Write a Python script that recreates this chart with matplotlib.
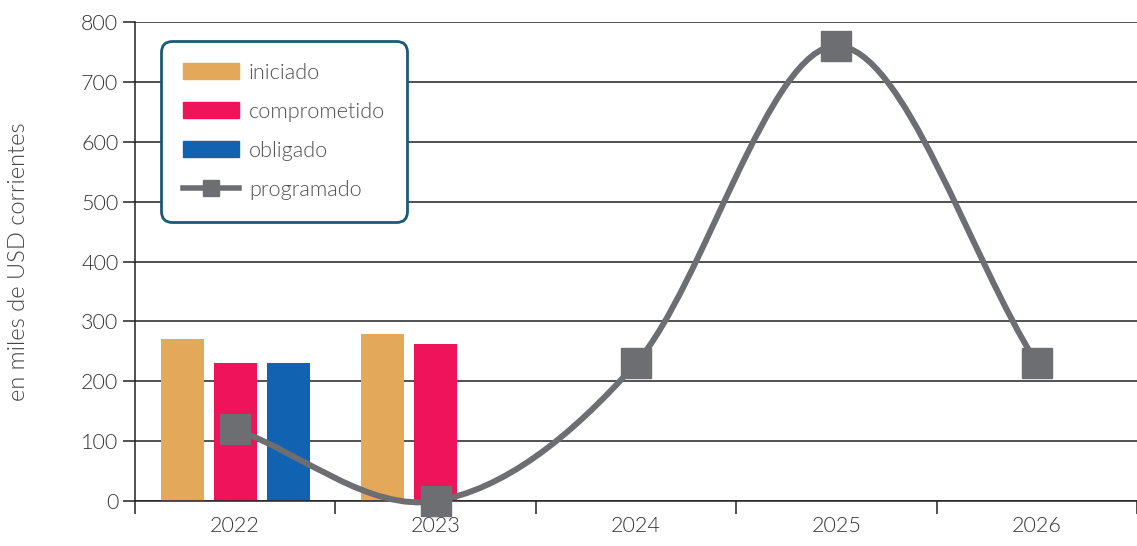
import matplotlib.pyplot as plt
import numpy as np
from matplotlib.path import Path
from matplotlib.patches import PathPatch, Patch
from matplotlib.lines import Line2D

plt.rcParams['font.family'] = ['Lato', 'DejaVu Sans']

years = ['2022', '2023', '2024', '2025', '2026']
iniciado = [270, 279]
comprometido = [230, 262]
obligado = [230]
programado = [120, 0, 230, 760, 230]

c_ini = '#e3a85a'
c_com = '#ee135a'
c_obl = '#1163b1'
c_prog = '#6d6e71'
txt = '#333333'
FW = 300

fig = plt.figure(figsize=(11.37, 5.46), dpi=100)
ax = fig.add_axes([135 / 1137, 45 / 546, 1 - 135 / 1137, 479 / 546])

x = np.arange(len(years))
w = 0.215
off = 0.264
ax.bar(x[:len(iniciado)] - off, iniciado, w, color=c_ini, zorder=2)
ax.bar(x[:len(comprometido)], comprometido, w, color=c_com, zorder=2)
ax.bar(x[:len(obligado)] + off, obligado, w, color=c_obl, zorder=2)

# smooth curve (cardinal spline) through the programado points
y = np.array(programado, dtype=float)
m = np.zeros_like(y)
m[1:-1] = (y[2:] - y[:-2]) / 2
m[0] = y[1] - y[0]
m[-1] = y[-1] - y[-2]
verts = [(x[0], y[0])]
codes = [Path.MOVETO]
for i in range(len(y) - 1):
    verts += [(x[i] + 1 / 3, y[i] + m[i] / 3),
              (x[i + 1] - 1 / 3, y[i + 1] - m[i + 1] / 3),
              (x[i + 1], y[i + 1])]
    codes += [Path.CURVE4] * 3
ax.add_patch(PathPatch(Path(verts, codes), fill=False, edgecolor=c_prog,
                       lw=4.3, zorder=3, capstyle='butt', clip_on=False))
ax.plot(x, programado, ls='none', marker='s', ms=21, color=c_prog, zorder=4,
        clip_on=False)

ax.set_xlim(-0.5, 4.5)
ax.set_ylim(0, 800)
ax.set_yticks(np.arange(0, 801, 100))
ax.set_xticks(x)
ax.set_xticklabels(years)
ax.set_xticks(np.arange(-0.5, 4.6, 1), minor=True)
ax.grid(axis='y', color='#222222', lw=1.1, zorder=0)
ax.tick_params(axis='y', length=9, width=1.1, color='#222222', labelsize=15.5,
               labelcolor=txt, pad=3)
ax.tick_params(axis='x', which='major', length=0, labelsize=15.5, labelcolor=txt, pad=11)
ax.tick_params(axis='x', which='minor', length=9, width=1.1, color='#222222')
for lab in ax.get_xticklabels() + ax.get_yticklabels():
    lab.set_fontweight(FW)
for s in ['top', 'right']:
    ax.spines[s].set_visible(False)
ax.spines['left'].set_color('#222222')
ax.spines['left'].set_linewidth(1.1)
ax.spines['bottom'].set_color('#222222')
ax.spines['bottom'].set_linewidth(1.1)

ax.set_ylabel('en miles de USD corrientes', fontsize=17, color='#444444',
              fontweight=FW)
ax.yaxis.set_label_coords(-106 / 1002, 0.5)

handles = [Patch(color=c_ini), Patch(color=c_com), Patch(color=c_obl),
           Line2D([], [], color=c_prog, lw=4, marker='s', ms=12)]
leg = ax.legend(handles, ['iniciado', 'comprometido', 'obligado', 'programado'],
                loc='upper left', bbox_to_anchor=(26 / 1002, 1 - 19 / 479),
                prop={'size': 15.6, 'weight': FW}, handlelength=2.6,
                handleheight=0.78, labelspacing=0.88, handletextpad=0.46,
                borderpad=1.0, borderaxespad=0, fancybox=True, framealpha=1)
fr = leg.get_frame()
fr.set_edgecolor('#1a5a78')
fr.set_linewidth(2)
fr.set_boxstyle('round,pad=0,rounding_size=0.5')
for t in leg.get_texts():
    t.set_color('#505050')
leg.set_zorder(5)

fig.savefig('out.png', dpi=100)
